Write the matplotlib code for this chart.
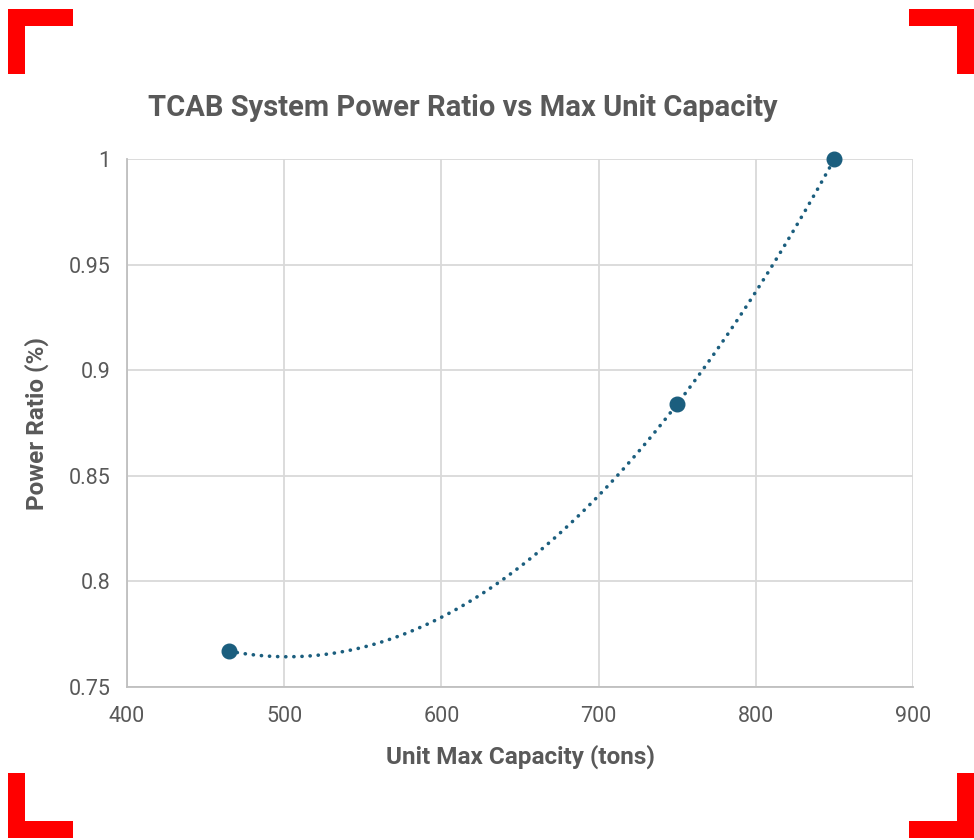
import numpy as np
import matplotlib

matplotlib.use("Agg")
import matplotlib.pyplot as plt
import matplotlib.patches as mpatches

capacity = [465, 750, 850]
power_ratio = [0.767, 0.884, 1.0]
x_ticks = [400, 500, 600, 700, 800, 900]
y_ticks = [0.75, 0.8, 0.85, 0.9, 0.95, 1.0]
y_tick_labels = ["0.75", "0.8", "0.85", "0.9", "0.95", "1"]

W, H, dpi = 974, 840, 100
fig = plt.figure(figsize=(W / dpi, H / dpi), dpi=dpi)
fig.patch.set_facecolor("white")

ax = fig.add_axes([127 / W, 1 - 687 / H, (913 - 127) / W, (687 - 159) / H])

# polynomial (order 2) trendline through the points, like Excel's
coef = np.polyfit(capacity, power_ratio, 2)
xs = np.linspace(min(capacity), max(capacity), 300)
ax.plot(xs, np.polyval(coef, xs), color="#1b5e7e", lw=2.6,
        linestyle=(0, (0.05, 2.2)), dash_capstyle="round", zorder=2)
ax.plot(capacity, power_ratio, "o", color="#1b5e7e", ms=10.5, zorder=3, clip_on=False)

ax.set_xlim(400, 900)
ax.set_ylim(0.75, 1.0)
ax.set_xticks(x_ticks)
ax.set_yticks(y_ticks)
ax.set_yticklabels(y_tick_labels)
ax.grid(True, color="#d9d9d9", lw=1.3)
ax.set_axisbelow(True)
for side in ["top", "right"]:
    ax.spines[side].set_visible(False)
for side in ["left", "bottom"]:
    ax.spines[side].set_color("#bfbfbf")
    ax.spines[side].set_linewidth(1.3)
ax.tick_params(axis="x", pad=14)
ax.tick_params(axis="y", pad=12)
ax.tick_params(length=0, labelsize=15.5, labelcolor="#595959")
for lab in ax.get_xticklabels() + ax.get_yticklabels():
    lab.set_family("Roboto")

ax.set_xlabel("Unit Max Capacity (tons)", fontsize=17.5, fontweight="bold",
              color="#595959", family="Roboto", labelpad=12)
ax.set_ylabel("Power Ratio (%)", fontsize=17.5, fontweight="bold",
              color="#595959", family="Roboto", labelpad=14)
fig.text(463 / W, 1 - 108 / H, "TCAB System Power Ratio vs Max Unit Capacity",
         fontsize=21, fontweight="bold", color="#595959", family="Roboto",
         ha="center", va="center")

# red corner brackets
red = "#ff0000"
t, L = 17, 65
corners = [(8, 9, 1, 1), (974, 9, -1, 1), (8, 838, 1, -1), (974, 838, -1, -1)]
for cx, cy, dx, dy in corners:
    x0 = cx if dx > 0 else cx - L
    xv = cx if dx > 0 else cx - t
    y0 = cy if dy > 0 else cy - t
    yv = cy if dy > 0 else cy - L
    for (rx, ry, rw, rh) in [(x0, y0, L, t), (xv, yv, t, L)]:
        fig.patches.append(mpatches.Rectangle((rx / W, 1 - (ry + rh) / H), rw / W, rh / H,
                                              transform=fig.transFigure, facecolor=red,
                                              edgecolor="none"))

fig.savefig("out.png", dpi=dpi, facecolor="white")
